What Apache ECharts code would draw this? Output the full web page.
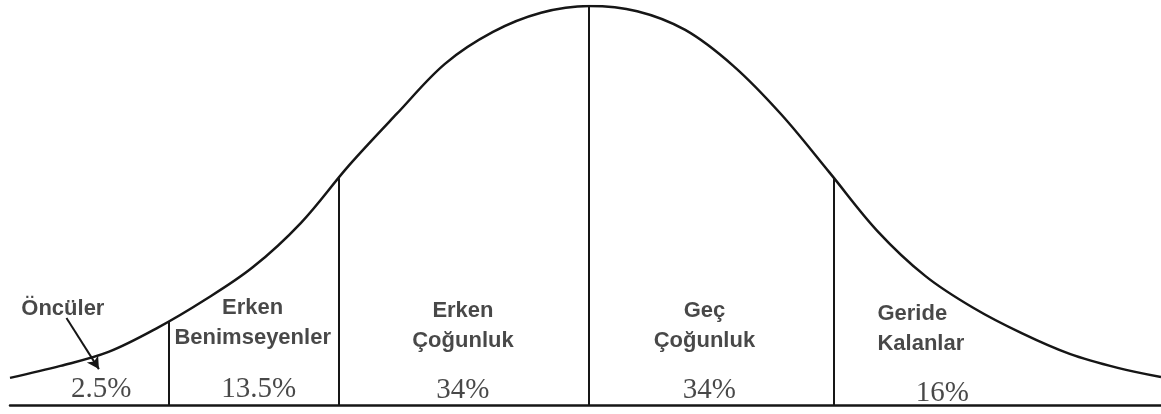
<!DOCTYPE html>
<html>
<head>
<meta charset="utf-8">
<script src="https://cdn.jsdelivr.net/npm/echarts@6/dist/echarts.min.js"></script>
<style>
  html, body { margin: 0; padding: 0; background: #fff; }
  #chart { width: 1161px; height: 414px; }
</style>
</head>
<body>
<div id="chart"></div>
<script>
// egri: x = ortalamadan uzaklik (sigma), y = tepe yuksekligine gore %
const curveX = [-2.41, -2.2, -2.0, -1.8, -1.6, -1.4, -1.2, -1.0, -0.8, -0.6, -0.4, -0.2, 0,
                0.2, 0.4, 0.6, 0.8, 1.0, 1.2, 1.4, 1.6, 1.8, 2.0, 2.2, 2.38]
const curveY = [6.8, 9.8, 13.3, 19.2, 26.3, 34.5, 45.6, 60.0, 73.0, 85.5, 93.5, 98.3, 100,
                98.7, 94.0, 85.0, 72.8, 58.3, 43.6, 32.3, 24.3, 18.0, 12.8, 9.3, 7.0]

// dikey ayiricilar
const dividerX = [-1.75, -1.04, 0, 1.02]
const dividerTop = [21.0, 57.2, 100, 56.8]

// gruplar
const groupNames = ['Öncüler', 'Erken\nBenimseyenler', 'Erken\nÇoğunluk', 'Geç\nÇoğunluk', 'Geride\nKalanlar']
const groupShares = ['2.5%', '13.5%', '34%', '34%', '16%']

// yazi yerleri (eksen birimi)
const nameX = [-2.19, -1.40, -0.525, 0.48, 1.2]
const nameY = [24.2, 20.5, 19.7, 19.7, 19.0]
const nameAlign = ['center', 'center', 'center', 'center', 'left']
const shareX = [-2.03, -1.375, -0.525, 0.5, 1.47]
const shareY = [3.9, 3.9, 3.7, 3.7, 2.9]

const ink = '#161616'

let chart = echarts.init(document.getElementById('chart'))
chart.setOption({
    animation: false,
    grid: { left: 10, right: 0, top: 6, bottom: 9 },
    xAxis: {
        type: 'value',
        min: -2.41,
        max: 2.38,
        axisLine: { show: true, onZero: false, lineStyle: { color: ink, width: 2.5 } },
        axisTick: { show: false },
        axisLabel: { show: false },
        splitLine: { show: false }
    },
    yAxis: {
        type: 'value',
        min: 0,
        max: 100,
        show: false
    },
    series: [
        {
            name: 'egri',
            type: 'line',
            smooth: 0.35,
            symbol: 'none',
            lineStyle: { color: ink, width: 2.5 },
            data: curveX.map((x, i) => [x, curveY[i]]),
            markLine: {
                silent: true,
                symbol: ['none', 'none'],
                label: { show: false },
                lineStyle: { color: ink, width: 2, type: 'solid' },
                data: dividerX.map((x, i) => [{ coord: [x, 0] }, { coord: [x, dividerTop[i]] }])
            }
        },
        {
            // Oncüler oku
            name: 'ok',
            type: 'line',
            symbol: 'none',
            data: [],
            markLine: {
                silent: true,
                symbol: ['none', 'arrow'],
                symbolSize: [10, 12],
                label: { show: false },
                lineStyle: { color: ink, width: 2, type: 'solid' },
                data: [[{ coord: [-2.175, 21.8] }, { coord: [-2.04, 9.0] }]]
            }
        },
        {
            name: 'adlar',
            type: 'scatter',
            symbolSize: 0,
            silent: true,
            data: groupNames.map((n, i) => ({
                value: [nameX[i], nameY[i]],
                label: {
                    show: true,
                    position: 'inside',
                    formatter: n,
                    align: nameAlign[i],
                    fontFamily: 'Liberation Sans, Arial, sans-serif',
                    fontWeight: 'bold',
                    fontSize: 22,
                    lineHeight: 30,
                    color: '#1a1a1a',
                    textBorderWidth: 0
                }
            }))
        },
        {
            name: 'oranlar',
            type: 'scatter',
            symbolSize: 0,
            silent: true,
            data: groupShares.map((s, i) => ({
                value: [shareX[i], shareY[i]],
                label: {
                    show: true,
                    position: 'inside',
                    formatter: s,
                    fontFamily: 'Liberation Serif, Times New Roman, serif',
                    fontSize: 29,
                    color: '#1a1a1a',
                    textBorderWidth: 0
                }
            }))
        }
    ]
})
</script>
</body>
</html>
